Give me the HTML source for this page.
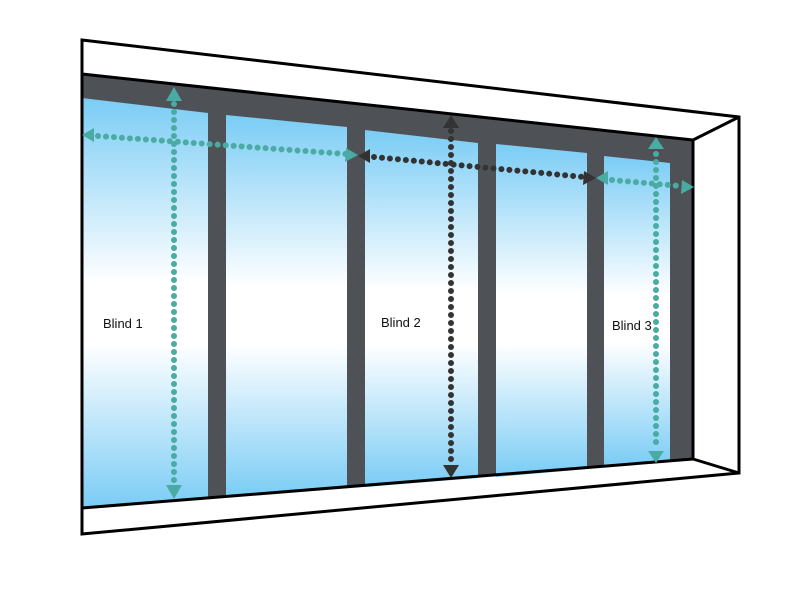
<!DOCTYPE html>
<html><head><meta charset="utf-8"><style>html,body{margin:0;padding:0;background:#fff}svg{display:block}</style></head>
<body>
<svg width="800" height="600" viewBox="0 0 800 600" xmlns="http://www.w3.org/2000/svg">
<defs>
<linearGradient id="g" x1="0" y1="0" x2="0" y2="1" gradientUnits="objectBoundingBox">
<stop offset="0" stop-color="#7accf5"/><stop offset="0.45" stop-color="#ffffff"/><stop offset="0.6" stop-color="#ffffff"/><stop offset="1" stop-color="#7accf5"/>
</linearGradient>
</defs>
<polygon points="82,40 739,117 739,473 82,534" fill="#fff" stroke="#000" stroke-width="3" stroke-linejoin="miter"/>
<line x1="693" y1="140" x2="739" y2="117" stroke="#000" stroke-width="3"/>
<line x1="693" y1="459" x2="739" y2="473" stroke="#000" stroke-width="3"/>
<polygon points="82,74 693,140 693,459 82,508" fill="#4e5257"/>
<polygon points="82,98 208,113 208,498 82,508" fill="url(#g)"/>
<polygon points="226,115 347,127 347,488 226,497" fill="url(#g)"/>
<polygon points="365,130 478,143 478,478 365,487" fill="url(#g)"/>
<polygon points="496,144 587,153 587,469 496,477" fill="url(#g)"/>
<polygon points="604,156 670,163 670,461 604,466" fill="url(#g)"/>
<line x1="82" y1="74" x2="693" y2="140" stroke="#000" stroke-width="3"/>
<line x1="82" y1="508" x2="693" y2="459" stroke="#000" stroke-width="3"/>
<line x1="693" y1="140" x2="693" y2="459" stroke="#000" stroke-width="3"/>
<line x1="82" y1="40" x2="82" y2="534" stroke="#000" stroke-width="3"/>
<g fill="none" stroke-linecap="round" stroke-width="6" stroke-dasharray="0 8">
<line x1="174" y1="104" x2="174" y2="484" stroke="#4aaba3"/>
<line x1="98" y1="136" x2="346" y2="154" stroke="#4aaba3"/>
<line x1="374" y1="157" x2="584" y2="177" stroke="#333"/>
<line x1="612" y1="180" x2="680" y2="186" stroke="#4aaba3"/>
<line x1="451" y1="131" x2="451" y2="465" stroke="#333"/>
<line x1="656" y1="154" x2="656" y2="450" stroke="#4aaba3"/>
</g>
<g fill="#4aaba3">
<polygon points="174,87 166,101 182,101"/>
<polygon points="174,499 166,485 182,485"/>
<polygon points="82,135 94,128 94,142"/>
<polygon points="358,155 346,148 345,162"/>
<polygon points="596,178 608,171 608,185"/>
<polygon points="694,187 682,180 681,194"/>
<polygon points="656,137 648,149 664,149"/>
<polygon points="656,463 648,451 664,451"/>
</g>
<g fill="#333">
<polygon points="358,156 370,149 370,163"/>
<polygon points="596,178 584,171 583,185"/>
<polygon points="451,115 443,128 459,128"/>
<polygon points="451,478 443,465 459,465"/>
</g>
<g font-family="Liberation Sans, sans-serif" font-size="13" fill="#111">
<text x="103" y="328">Blind 1</text>
<text x="381" y="327">Blind 2</text>
<text x="612" y="330">Blind 3</text>
</g>
</svg>
</body></html>
